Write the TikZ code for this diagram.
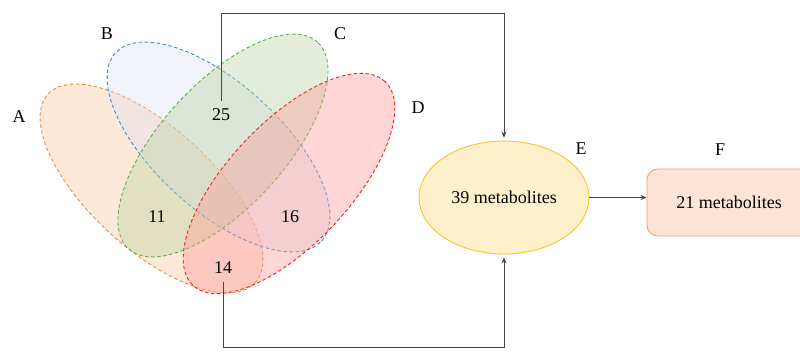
\documentclass[tikz,border=0pt]{standalone}
\usepackage{fontspec}
\setmainfont{Liberation Serif}
\usetikzlibrary{arrows.meta,calc,shapes.geometric}
\definecolor{strA}{RGB}{244,137,59}
\definecolor{filA}{RGB}{250,200,162}
\definecolor{strB}{RGB}{58,142,219}
\definecolor{filB}{RGB}{222,225,242}
\definecolor{strC}{RGB}{93,179,74}
\definecolor{filC}{RGB}{187,212,162}
\definecolor{strD}{RGB}{255,30,30}
\definecolor{filD}{RGB}{255,152,152}
\definecolor{strE}{RGB}{250,196,40}
\definecolor{filE}{RGB}{254,240,202}
\definecolor{strF}{RGB}{246,160,110}
\definecolor{filF}{RGB}{252,228,214}
\definecolor{connc}{RGB}{70,70,70}
\begin{document}
\begin{tikzpicture}[x=1pt,y=1pt,
  vset/.style={dash pattern=on 3.5pt off 2.5pt, line width=0.9pt, fill opacity=0.4},
  lbl/.style={font=\fontsize{18}{20}\selectfont, inner sep=0pt},
  conn/.style={draw=connc, line width=0.8pt},
  tip/.style={-{Stealth[length=6pt,width=5pt]}}
]
\useasboundingbox (0,0) rectangle (800,351);
\clip (0,0) rectangle (800,351);
\fill[white] (0,0) rectangle (800,351);

% Venn ellipses
\draw[vset, draw=strA, fill=filA, rotate around={-42.3:(151.5,162.5)}] (151.5,162.5) ellipse [x radius=140pt, y radius=61pt];
\draw[vset, draw=strB, fill=filB, rotate around={-42.4:(218.5,204)}] (218.5,204) ellipse [x radius=139.5pt, y radius=63pt];
\draw[vset, draw=strC, fill=filC, rotate around={47.5:(223,205.5)}] (223,205.5) ellipse [x radius=140pt, y radius=62pt];
\draw[vset, draw=strD, fill=filD, rotate around={46.7:(289,167.5)}] (289,167.5) ellipse [x radius=140pt, y radius=61pt];

% set labels
\node[lbl] (labA) at (19,234) {A};
\node[lbl] (labB) at (107,317) {B};
\node[lbl] (labC) at (340,317) {C};
\node[lbl] (labD) at (418,243) {D};

% counts
\node[lbl, inner ysep=8pt] (n25) at (221,236) {25};
\node[lbl] (n11) at (157,134) {11};
\node[lbl] (n16) at (290,134) {16};
\node[lbl, inner ysep=8pt] (n14) at (223,83) {14};

% result nodes
\node[lbl, ellipse, draw=strE, fill=filE, line width=0.9pt, minimum width=170pt, minimum height=113pt] (E) at (504,153.5) {39 metabolites};
\node[lbl] (labE) at (581,202) {E};
\node[lbl, draw=strF, fill=filF, line width=0.9pt, rounded corners=11pt, minimum width=164pt, minimum height=67pt] (F) at (729,148.5) {21 metabolites};
\node[lbl] (labF) at (720,201) {F};

% connectors
\coordinate (topbend) at (0,338);
\coordinate (botbend) at (0,4);
\draw[conn, tip, shorten >=3pt] (n25.north) |- (topbend -| E.north) -- (E.north);
\draw[conn, tip, shorten >=3pt] (n14.south) |- (botbend -| E.south) -- (E.south);
\draw[conn, tip] (E.east) -- (E.east -| F.west);
\end{tikzpicture}
\end{document}
